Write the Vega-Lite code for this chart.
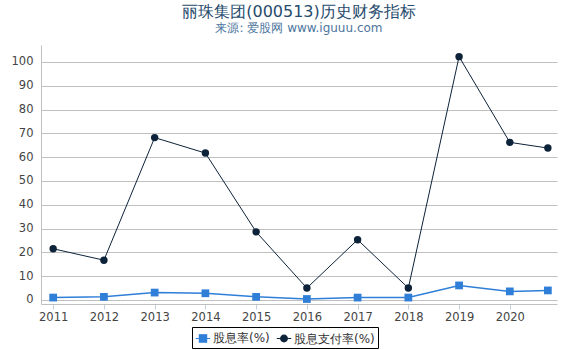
{
  "$schema": "https://vega.github.io/schema/vega-lite/v6.json",
  "width": 516,
  "height": 259,
  "autosize": {"type": "none"},
  "padding": {"left": 41, "top": 45, "right": 13, "bottom": 46},
  "background": "white",
  "title": {
    "text": "丽珠集团(000513)历史财务指标",
    "subtitle": "来源: 爱股网 www.iguuu.com",
    "anchor": "middle",
    "font": "DejaVu Sans",
    "fontSize": 16,
    "fontWeight": "normal",
    "color": "#274b6d",
    "subtitleFont": "DejaVu Sans",
    "subtitleFontSize": 12,
    "subtitleColor": "#4d759e",
    "subtitlePadding": 3,
    "offset": 11
  },
  "config": {
    "font": "DejaVu Sans",
    "view": {"stroke": null},
    "axis": {"labelFont": "DejaVu Sans", "labelFontSize": 11.5, "labelColor": "#444444", "title": null}
  },
  "data": {
    "values": [
      {"year": 2011, "series": "股息率(%)", "value": 1.0},
      {"year": 2012, "series": "股息率(%)", "value": 1.3},
      {"year": 2013, "series": "股息率(%)", "value": 3.1},
      {"year": 2014, "series": "股息率(%)", "value": 2.8},
      {"year": 2015, "series": "股息率(%)", "value": 1.3},
      {"year": 2016, "series": "股息率(%)", "value": 0.4},
      {"year": 2017, "series": "股息率(%)", "value": 1.0},
      {"year": 2018, "series": "股息率(%)", "value": 1.0},
      {"year": 2019, "series": "股息率(%)", "value": 6.1},
      {"year": 2020, "series": "股息率(%)", "value": 3.6},
      {"year": 2020.75, "series": "股息率(%)", "value": 4.0},
      {"year": 2011, "series": "股息支付率(%)", "value": 21.5},
      {"year": 2012, "series": "股息支付率(%)", "value": 16.7},
      {"year": 2013, "series": "股息支付率(%)", "value": 68.2},
      {"year": 2014, "series": "股息支付率(%)", "value": 61.7},
      {"year": 2015, "series": "股息支付率(%)", "value": 28.6},
      {"year": 2016, "series": "股息支付率(%)", "value": 5.0},
      {"year": 2017, "series": "股息支付率(%)", "value": 25.3},
      {"year": 2018, "series": "股息支付率(%)", "value": 5.0},
      {"year": 2019, "series": "股息支付率(%)", "value": 102.2},
      {"year": 2020, "series": "股息支付率(%)", "value": 66.2},
      {"year": 2020.75, "series": "股息支付率(%)", "value": 63.8}
    ]
  },
  "encoding": {
    "x": {
      "field": "year",
      "type": "quantitative",
      "scale": {"domain": [2010.76, 2020.93], "nice": false, "zero": false},
      "axis": {
        "values": [2011, 2012, 2013, 2014, 2015, 2016, 2017, 2018, 2019, 2020],
        "format": "d",
        "grid": false,
        "domainColor": "#C0C0C0",
        "tickColor": "#C0D0E0",
        "tickSize": 5,
        "labelPadding": 2,
        "labelFlush": false
      }
    },
    "y": {
      "field": "value",
      "type": "quantitative",
      "scale": {"domain": [-1.7, 107.1], "nice": false, "zero": false},
      "axis": {
        "values": [0, 10, 20, 30, 40, 50, 60, 70, 80, 90, 100],
        "grid": true,
        "gridColor": "#C0C0C0",
        "domainColor": "#C0C0C0",
        "ticks": false,
        "labelPadding": 8
      }
    },
    "color": {
      "field": "series",
      "type": "nominal",
      "scale": {"domain": ["股息率(%)", "股息支付率(%)"], "range": ["#2f7ed8", "#0d233a"]},
      "legend": {
        "title": null,
        "orient": "none",
        "legendX": 151,
        "legendY": 282,
        "direction": "horizontal",
        "strokeColor": "#000000",
        "padding": 3,
        "symbolSize": 210,
        "symbolStrokeWidth": 1.2,
        "labelFont": "DejaVu Sans",
        "labelFontSize": 12,
        "labelColor": "#333333",
        "labelOffset": 2,
        "columnPadding": 4,
        "encode": {
          "symbols": {
            "update": {
              "shape": {"signal": "datum.value === '股息率(%)' ? 'M-1,0L1,0M-0.5,-0.5L0.5,-0.5L0.5,0.5L-0.5,0.5Z' : 'M-1,0L1,0M0.46,0A0.46,0.46,0,1,1,-0.46,0A0.46,0.46,0,1,1,0.46,0Z'"},
              "fill": {"signal": "datum.value === '股息率(%)' ? '#2f7ed8' : '#0d233a'"},
              "stroke": {"signal": "datum.value === '股息率(%)' ? '#2f7ed8' : '#0d233a'"},
              "fillOpacity": {"value": 1},
              "opacity": {"value": 1}
            }
          }
        }
      }
    }
  },
  "layer": [
    {
      "mark": {"type": "line"},
      "encoding": {
        "strokeWidth": {
          "condition": {"test": "datum.series === '股息率(%)'", "value": 1.5},
          "value": 1
        }
      }
    },
    {
      "mark": {"type": "point", "filled": true, "opacity": 1},
      "encoding": {
        "shape": {
          "condition": {"test": "datum.series === '股息率(%)'", "value": "square"},
          "value": "circle"
        },
        "size": {
          "condition": {"test": "datum.series === '股息率(%)'", "value": 60},
          "value": 55
        }
      }
    }
  ]
}
